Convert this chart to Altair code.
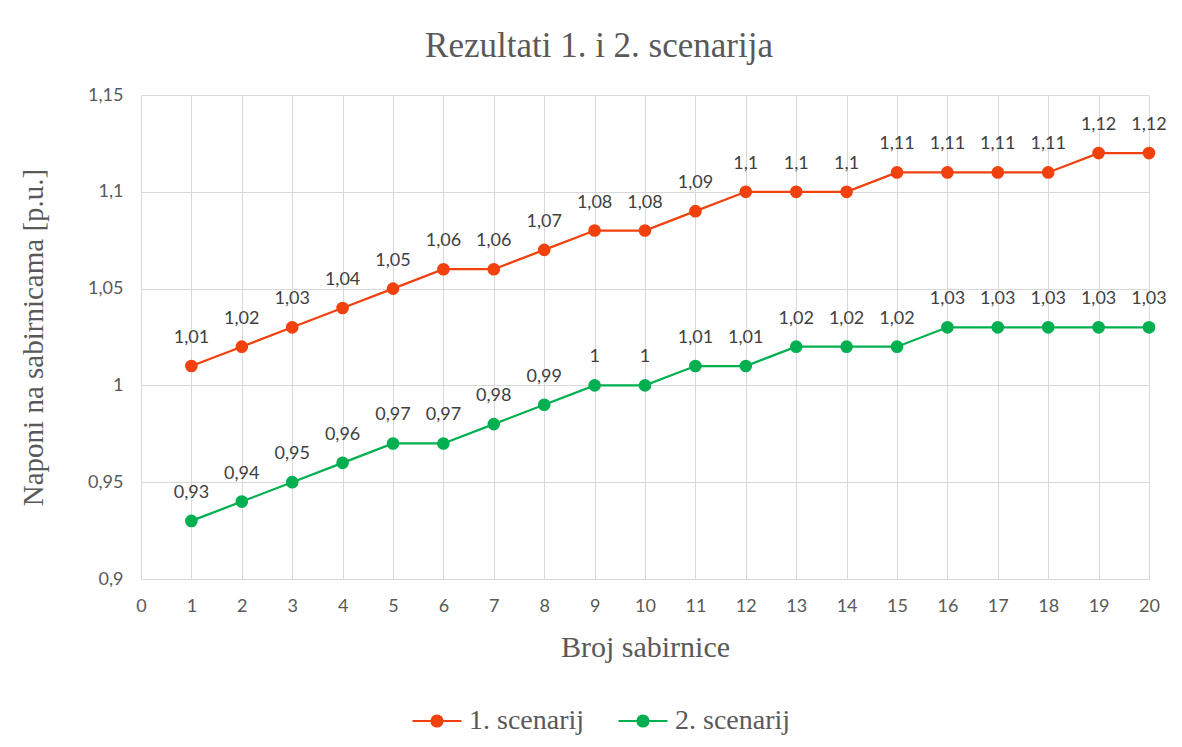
import altair as alt
import pandas as pd

buses = list(range(1, 21))
scen1 = [1.01, 1.02, 1.03, 1.04, 1.05, 1.06, 1.06, 1.07, 1.08, 1.08,
         1.09, 1.10, 1.10, 1.10, 1.11, 1.11, 1.11, 1.11, 1.12, 1.12]
scen2 = [0.93, 0.94, 0.95, 0.96, 0.97, 0.97, 0.98, 0.99, 1.00, 1.00,
         1.01, 1.01, 1.02, 1.02, 1.02, 1.03, 1.03, 1.03, 1.03, 1.03]
series_names = ["1. scenarij", "2. scenarij"]
colors = ["#F0410F", "#00B050"]
x_ticks = list(range(0, 21))
y_ticks = [0.9, 0.95, 1.0, 1.05, 1.1, 1.15]

df = pd.DataFrame(
    [{"bus": b, "v": v, "series": series_names[0]} for b, v in zip(buses, scen1)]
    + [{"bus": b, "v": v, "series": series_names[1]} for b, v in zip(buses, scen2)]
)

W, H = 1008, 484
serif = "Liberation Serif"
sans = "Lato"
grey = "#595959"

color_scale = alt.Scale(domain=series_names, range=colors)

x = alt.X("bus:Q", scale=alt.Scale(domain=[0, 20], nice=False),
          axis=alt.Axis(values=x_ticks, title="Broj sabirnice", grid=True,
                        titleFontSize=30, labelFlush=False,
                        titleX=W / 2, titleY=68, titleBaseline="middle"))
y = alt.Y("v:Q", scale=alt.Scale(domain=[0.9, 1.15], nice=False, zero=False),
          axis=alt.Axis(values=y_ticks, title="Naponi na sabirnicama [p.u.]",
                        labelExpr="replace(format(datum.value, '.2~f'), '.', ',')",
                        titleFontSize=29, labelFlush=False,
                        titleX=-108, titleY=H / 2, titleAngle=270,
                        titleBaseline="middle", titleAlign="center"))

legend = alt.Legend(
    title=None, orient="none", direction="horizontal",
    legendX=282, legendY=612,
    symbolType="M-3.5,0H3.5M0.8,0A0.8,0.8,0,1,1,-0.8,0A0.8,0.8,0,1,1,0.8,0Z",
    symbolSize=196, symbolStrokeWidth=2,
    labelFont=serif, labelFontSize=28, labelColor=grey, labelOffset=18,
    columnPadding=29,
)

base = alt.Chart(df).encode(x=x, y=y)

lines = base.mark_line(strokeWidth=2.25).encode(
    color=alt.Color("series:N", scale=color_scale, legend=legend),
    detail="series:N",
)

points = base.mark_point(filled=True, size=160, strokeWidth=1.5, opacity=1).encode(
    color=alt.Color("series:N", scale=color_scale, legend=legend),
)

labels = base.transform_calculate(
    lab="replace(format(datum.v, '.2~f'), '.', ',')"
).mark_text(dy=-28, font=sans, fontSize=18, color="#404040").encode(text="lab:N")

chart = (
    alt.layer(lines, points, labels)
    .properties(
        width=W, height=H,
        autosize=alt.AutoSizeParams(type="none"),
        padding={"left": 133, "top": 87, "right": 25, "bottom": 160},
        title=alt.TitleParams("Rezultati 1. i 2. scenarija", font=serif, fontSize=35,
                              fontWeight="normal", color=grey, anchor="middle",
                              dx=-46, offset=22),
    )
    .configure_view(stroke=None)
    .configure_axis(
        domain=False, ticks=False, gridColor="#D9D9D9", gridWidth=1,
        labelFont=sans, labelFontSize=18, labelColor=grey, labelPadding=18,
        titleFont=serif, titleFontWeight="normal", titleColor=grey,
    )
)

chart.save("out.html", embed_options={"renderer": "svg", "actions": False})
